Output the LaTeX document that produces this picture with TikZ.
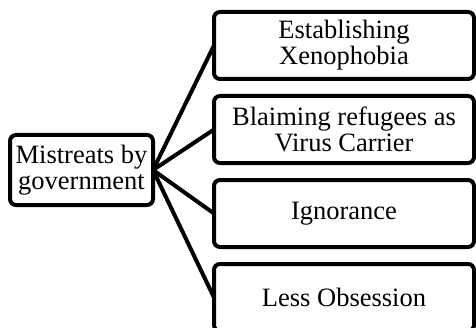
\documentclass[tikz,border=0pt]{standalone}
\usepackage{fontspec}
\setmainfont{Liberation Serif}
\usetikzlibrary{positioning}

\begin{document}
\begin{tikzpicture}[x=1pt,y=1pt,line width=4pt,node distance=17pt,
    box/.style={draw,rounded corners=6pt,align=center,outer sep=0pt,
      font=\fontsize{26.5}{26}\selectfont,inner sep=1pt},
    cause/.style={box,minimum width=260pt,minimum height=67pt}]
    \useasboundingbox (0,0) rectangle (476,327);

    \node[box,minimum width=143pt,minimum height=70pt] (mis) at (81.5,157) {Mistreats by\\government};
    \node[cause] (xen) at (344,281.5)   {Establishing\\Xenophobia};
    \node[cause] (vir) [below=of xen]   {Blaiming refugees as\\Virus Carrier};
    \node[cause] (ign) [below=of vir]   {Ignorance};
    \node[cause] (obs) [below=of ign]   {Less Obsession};

    \draw (mis.east) -- (xen.west)
          (mis.east) -- (vir.west)
          (mis.east) -- (ign.west)
          (mis.east) -- (obs.west);
\end{tikzpicture}
\end{document}
